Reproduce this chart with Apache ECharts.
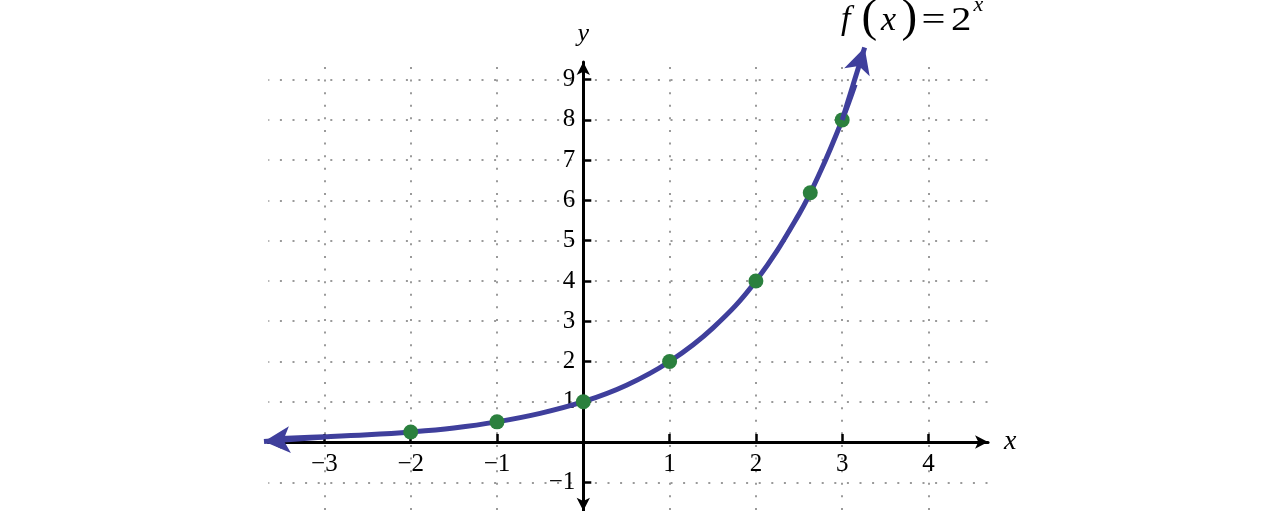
<!DOCTYPE html>
<html>
<head>
<meta charset="utf-8">
<script src="https://cdn.jsdelivr.net/npm/echarts@6/dist/echarts.min.js"></script>
<style>
  html, body { margin: 0; padding: 0; background: #fff; }
  #chart { width: 1280px; height: 511px; }
</style>
</head>
<body>
<div id="chart"></div>
<script>
// Curve f(x) = 2^x
const curveX = [-3.5, -3, -2.5, -2, -1.5, -1, -0.5, 0, 0.5, 1, 1.5, 2, 2.5, 2.75, 3, 3.15];
const curveY = [0.09, 0.13, 0.18, 0.25, 0.35, 0.5, 0.71, 1, 1.41, 2, 2.83, 4, 5.66, 6.73, 8, 8.88];
// Arrowhead segments at the two ends of the curve [from, tip]
const arrowTop = [[3.0, 8.0], [3.26, 9.8]];
const arrowLeft = [[-3.0, 0.125], [-3.7, 0.01]];
// Highlighted points
const pointsX = [-2, -1, 0, 1, 2, 2.63, 3];
const pointsY = [0.25, 0.5, 1, 2, 4, 6.19, 8];
// Tick values
const xTicks = [-3, -2, -1, 1, 2, 3, 4];
const yTicks = [-1, 1, 2, 3, 4, 5, 6, 7, 8, 9];

const BLUE = '#3f3f9c';
const GREEN = '#2b803e';
const SERIF = '"Liberation Serif", "DejaVu Serif", serif';

// layout: pixel position of origin and pixels per unit
const W = 1280, H = 511;
const X0 = 583.3, SX = 86.3, Y0 = 442, SY = 40.26;
function gridFor(xmin, xmax, ymin, ymax) {
  return {
    left: X0 + xmin * SX, right: W - (X0 + xmax * SX),
    top: Y0 - ymax * SY, bottom: H - (Y0 - ymin * SY),
    containLabel: false, outerBoundsMode: 'none'
  };
}
const AX = [-3.65, 4.69, -1.71, 9.44];   // axes grid extent
const DX = [-3.75, 4.69, -1.71, 10.0];   // data grid extent (same scale)

const fmt = v => (Math.abs(v - Math.round(v)) > 1e-9 || v === 0) ? '' : String(v).replace('-', '\u2212');

function txt(text, x, y, size, italic, scaleX) {
  return {
    type: 'text', x: x, y: y, scaleX: scaleX || 1, silent: true,
    style: {
      text: text, fontFamily: SERIF, fontSize: size, fontStyle: italic ? 'italic' : 'normal',
      fill: '#000', textAlign: 'left', textVerticalAlign: 'middle', align: 'left', verticalAlign: 'middle'
    }
  };
}

const chart = echarts.init(document.getElementById('chart'));
chart.setOption({
  animation: false,
  backgroundColor: '#fff',
  graphic: [
    txt('f', 841, 20, 34, true),
    txt('(', 861.5, 18.8, 47, false),
    txt('x', 881, 21.5, 34, true),
    txt(')', 901.5, 18.8, 47, false),
    txt('=', 921.5, 21.5, 34, false, 1.25),
    txt('2', 951, 21.5, 34, false, 1.2),
    txt('x', 973.5, 5.6, 22, true)
  ],
  grid: [gridFor.apply(null, AX), gridFor.apply(null, DX)],
  xAxis: [{
    gridIndex: 0, type: 'value', min: AX[0], max: AX[1], minInterval: 1, maxInterval: 1,
    position: 'bottom', offset: AX[2] * SY,
    name: 'x', nameLocation: 'end', nameGap: 16,
    nameTextStyle: { fontFamily: SERIF, fontStyle: 'italic', fontSize: 28, color: '#000', padding: [16, 0, 0, 0] },
    axisLine: { onZero: false, symbol: ['arrow', 'arrow'], symbolSize: [10, 13], lineStyle: { color: '#000', width: 3 } },
    axisTick: { inside: true, length: 8, customValues: xTicks, lineStyle: { color: '#000', width: 2.5 } },
    axisLabel: { customValues: xTicks, margin: 10, formatter: fmt, fontFamily: SERIF, fontSize: 25, color: '#000' },
    splitLine: { show: true, lineStyle: { color: '#9a9a9a', width: 2, type: [2, 10.6], dashOffset: 7.6 } }
  }, {
    gridIndex: 1, type: 'value', min: DX[0], max: DX[1], show: false
  }],
  yAxis: [{
    gridIndex: 0, type: 'value', min: AX[2], max: AX[3], minInterval: 1, maxInterval: 1,
    position: 'left', offset: AX[0] * SX,
    name: 'y', nameLocation: 'end', nameGap: 15,
    nameTextStyle: { fontFamily: SERIF, fontStyle: 'italic', fontSize: 26, color: '#000' },
    axisLine: { onZero: false, symbol: ['arrow', 'arrow'], symbolSize: [10, 13], lineStyle: { color: '#000', width: 3 } },
    axisTick: { inside: true, length: 8, customValues: yTicks, lineStyle: { color: '#000', width: 2.5 } },
    axisLabel: { customValues: yTicks, margin: 8, formatter: fmt, fontFamily: SERIF, fontSize: 25, color: '#000' },
    splitLine: { show: true, lineStyle: { color: '#9a9a9a', width: 2, type: [2, 10.6], dashOffset: 1 } }
  }, {
    gridIndex: 1, type: 'value', min: DX[2], max: DX[3], show: false
  }],
  series: [
    {
      type: 'line', xAxisIndex: 1, yAxisIndex: 1,
      data: curveX.map((x, i) => [x, curveY[i]]),
      smooth: 0.4,
      showSymbol: false,
      z: 3,
      lineStyle: { color: BLUE, width: 5 },
      markLine: {
        silent: true,
        symbol: ['none', 'arrow'],
        symbolSize: [20, 26],
        label: { show: false },
        lineStyle: { color: BLUE, width: 5, type: 'solid' },
        emphasis: { disabled: true },
        data: [
          [{ coord: arrowTop[0] }, { coord: arrowTop[1] }],
          [{ coord: arrowLeft[0] }, { coord: arrowLeft[1] }]
        ]
      }
    },
    {
      type: 'scatter', xAxisIndex: 1, yAxisIndex: 1,
      data: pointsX.map((x, i) => [x, pointsY[i]]),
      symbolSize: 15,
      z: 4,
      itemStyle: { color: GREEN, opacity: 1 }
    }
  ]
});
</script>
</body>
</html>
